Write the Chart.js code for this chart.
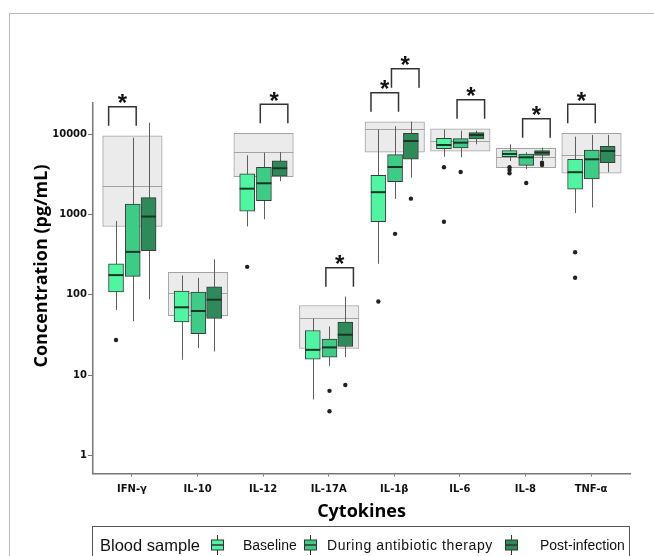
<!DOCTYPE html>
<html>
<head>
<meta charset="utf-8">
<script src="https://cdn.jsdelivr.net/npm/chart.js@4.4.0/dist/chart.umd.min.js"></script>
<style>
html, body { margin: 0; padding: 0; background: #fff; overflow: hidden; }
#wrap { position: relative; width: 654px; height: 556px; overflow: hidden; }
#frame { position: absolute; left: 9px; top: 13px; width: 700px; height: 600px; border: 1.5px solid #b8b8b8; box-sizing: border-box; }
#chart { position: absolute; left: 0; top: 0; }
#legend { position: absolute; left: 92px; top: 526px; width: 538px; height: 50px; border: 1px solid #555; box-sizing: border-box; }
.lg { position: absolute; font-family: 'Liberation Sans', Arial, sans-serif; color: #111; white-space: nowrap; line-height: 1; }
.lg.title { font-size: 16.5px; top: 537px; }
.lg.item { font-size: 14px; top: 538px; }
.icon { position: absolute; top: 535px; }
</style>
</head>
<body>
<div id="wrap">
  <div id="frame"></div>
  <canvas id="chart" width="654" height="556"></canvas>
  <div id="legend"></div>
  <div class="lg title" style="left:100px">Blood sample</div>
  <svg class="icon" style="left:210px" width="15" height="20"><line x1="7.5" y1="0" x2="7.5" y2="20" stroke="#333"/><rect x="1.5" y="5" width="12" height="10" fill="#4ff5a0" stroke="#333"/><line x1="1.5" y1="10" x2="13.5" y2="10" stroke="#333" stroke-width="1.5"/></svg>
  <div class="lg item" style="left:243px">Baseline</div>
  <svg class="icon" style="left:303px" width="15" height="20"><line x1="7.5" y1="0" x2="7.5" y2="20" stroke="#333"/><rect x="1.5" y="5" width="12" height="10" fill="#3dcb85" stroke="#333"/><line x1="1.5" y1="10" x2="13.5" y2="10" stroke="#333" stroke-width="1.5"/></svg>
  <div class="lg item" style="left:327px;letter-spacing:0.6px">During antibiotic therapy</div>
  <svg class="icon" style="left:504px" width="15" height="20"><line x1="7.5" y1="0" x2="7.5" y2="20" stroke="#333"/><rect x="1.5" y="5" width="12" height="10" fill="#2e8a58" stroke="#333"/><line x1="1.5" y1="10" x2="13.5" y2="10" stroke="#333" stroke-width="1.5"/></svg>
  <div class="lg item" style="left:540px">Post-infection</div>
</div>
<script>
const cytokines = ['IFN-γ', 'IL-10', 'IL-12', 'IL-17A', 'IL-1β', 'IL-6', 'IL-8', 'TNF-α'];
const groups = ['Baseline', 'During antibiotic therapy', 'Post-infection'];

// [min, q1, median, q3, max] for each cytokine
const baseline = [
  [65, 109, 176, 243, 830],
  [15.6, 46, 70, 111, 174],
  [710, 1100, 2090, 3190, 5430],
  [5.0, 15.9, 20.7, 36, 50.5],
  [243, 810, 1890, 3070, 11400],
  [5220, 6580, 7300, 8840, 11400],
  [4620, 5220, 5650, 6210, 7450],
  [1040, 2060, 3350, 4850, 9270]
];
const during = [
  [47, 170, 342, 1340, 9000],
  [21.8, 33, 63, 108, 163],
  [870, 1480, 2440, 3860, 5860],
  [13.1, 16.8, 22.2, 28.2, 40.5],
  [1560, 2560, 3890, 5540, 12500],
  [5130, 6700, 7800, 8760, 11000],
  [3650, 4080, 5130, 5610, 5930],
  [1220, 2760, 4850, 6290, 9730]
];
const postInfection = [
  [88, 355, 940, 1620, 13800],
  [19.8, 51, 87, 126, 277],
  [2600, 2985, 3750, 4630, 5970],
  [16.8, 22.8, 31.9, 45.7, 95],
  [2870, 4850, 8190, 10200, 14200],
  [7450, 8670, 9730, 10400, 11000],
  [4750, 5430, 5860, 6210, 6760],
  [3350, 4400, 6150, 7030, 9730]
];

const baselineOutliers = [[27.4], [], [223], [], [82.6], [3860, 810], [3860, 3570, 3250], [339, 163]];
const duringOutliers = [[], [], [], [6.4, 3.57], [573], [3370], [2460], []];
const postOutliers = [[], [], [], [7.55], [1570], [], [4400, 4120], []];

// reference range [low, median, high]
const referenceRange = [
  [708, 2260, 9500],
  [55, 105, 191],
  [2950, 5970, 10200],
  [21.5, 50.8, 73.6],
  [5930, 11400, 14200],
  [6100, 8260, 11600],
  [3820, 5180, 6640],
  [3250, 5490, 10200]
];

// significant comparisons: [cytokine index, group a, group b]
const significance = [[0, 0, 1], [2, 1, 2], [3, 1, 2], [4, 0, 1], [4, 1, 2], [5, 1, 2], [6, 1, 2], [7, 0, 1]];

const yTicks = [1, 10, 100, 1000, 10000];

const groupStats = [baseline, during, postInfection];
const groupOutliers = [baselineOutliers, duringOutliers, postOutliers];
const groupColors = ['#4ff5a0', '#3dcb85', '#2e8a58'];
const groupOffsets = [-0.243, 0.012, 0.253];
const boxWidth = 15;
const refWidth = 59.5;

const datasets = [{
  type: 'bar',
  role: 'reference',
  label: 'Reference',
  data: referenceRange.map((r, i) => ({ x: i + 0.007, y: [r[0], r[2]] })),
  backgroundColor: '#ebebeb',
  borderColor: '#a3a3a3',
  borderWidth: 1,
  borderSkipped: false,
  barThickness: refWidth,
  grouped: false,
  order: 10
}];

groupStats.forEach((stats, g) => {
  datasets.push({
    type: 'bar',
    role: 'box',
    group: g,
    label: groups[g],
    data: stats.map((s, i) => ({ x: i + groupOffsets[g], y: [s[1], s[3]] })),
    backgroundColor: groupColors[g],
    borderColor: '#3a3a3a',
    borderWidth: 1,
    borderSkipped: false,
    barThickness: boxWidth,
    grouped: false,
    order: 5
  });
});

groupOutliers.forEach((outs, g) => {
  datasets.push({
    type: 'scatter',
    role: 'outlier',
    label: groups[g] + ' outliers',
    data: outs.flatMap((vals, i) => vals.map(v => ({ x: i + groupOffsets[g], y: v }))),
    pointRadius: 2.2,
    backgroundColor: '#222',
    borderWidth: 0,
    order: 1
  });
});

const boxParts = {
  id: 'boxParts',
  afterDatasetDraw(chart, args) {
    const ds = chart.data.datasets[args.index];
    const { ctx } = chart;
    const x = chart.scales.x, y = chart.scales.y;
    ctx.save();
    if (ds.role === 'reference') {
      // reference median
      ctx.strokeStyle = '#a3a3a3';
      ctx.lineWidth = 1;
      referenceRange.forEach((r, i) => {
        const px = x.getPixelForValue(i + 0.007);
        const py = Math.round(y.getPixelForValue(r[1])) + 0.5;
        ctx.beginPath();
        ctx.moveTo(px - refWidth / 2, py);
        ctx.lineTo(px + refWidth / 2, py);
        ctx.stroke();
      });
      // whiskers
      ctx.strokeStyle = '#5e5e5e';
      groupStats.forEach((stats, g) => {
        stats.forEach((s, i) => {
          const px = Math.round(x.getPixelForValue(i + groupOffsets[g])) + 0.5;
          ctx.beginPath();
          ctx.moveTo(px, y.getPixelForValue(s[0]));
          ctx.lineTo(px, y.getPixelForValue(s[4]));
          ctx.stroke();
        });
      });
    }
    if (ds.role === 'box') {
      ctx.strokeStyle = '#1b3626';
      ctx.lineWidth = 2;
      groupStats[ds.group].forEach((s, i) => {
        const px = x.getPixelForValue(i + groupOffsets[ds.group]);
        const py = y.getPixelForValue(s[2]);
        ctx.beginPath();
        ctx.moveTo(px - boxWidth / 2, py);
        ctx.lineTo(px + boxWidth / 2, py);
        ctx.stroke();
      });
    }
    ctx.restore();
  },
  afterDraw(chart) {
    const { ctx } = chart;
    const x = chart.scales.x, y = chart.scales.y;
    const lastTop = {};
    ctx.save();
    ctx.strokeStyle = '#333';
    ctx.lineWidth = 1.5;
    ctx.fillStyle = '#111';
    ctx.font = 'bold 24px "Liberation Sans", Arial, sans-serif';
    ctx.textAlign = 'center';
    ctx.textBaseline = 'alphabetic';
    significance.forEach(([ci, a, b]) => {
      const highest = Math.max(referenceRange[ci][2], groupStats[a][ci][4], groupStats[b][ci][4]);
      let legBottom = y.getPixelForValue(highest) - 10;
      if (lastTop[ci] !== undefined) legBottom = lastTop[ci] - 5;
      const top = legBottom - 19;
      lastTop[ci] = top;
      const mid = ci + 0.63 * (groupOffsets[a] + groupOffsets[b]);
      const x1 = x.getPixelForValue(mid - 0.21);
      const x2 = x.getPixelForValue(mid + 0.21);
      ctx.beginPath();
      ctx.moveTo(x1, legBottom);
      ctx.lineTo(x1, top);
      ctx.lineTo(x2, top);
      ctx.lineTo(x2, legBottom);
      ctx.stroke();
      ctx.fillText('*', (x1 + x2) / 2, top + 4.5);
    });
    // y axis title, placed a little above the axis centre like the original
    ctx.translate(42, 266);
    ctx.rotate(-Math.PI / 2);
    ctx.font = 'bold 18px "Open Sans", sans-serif';
    ctx.fillStyle = '#000';
    ctx.textBaseline = 'middle';
    ctx.fillText('Concentration (pg/mL)', 0, 0);
    ctx.restore();
  }
};

const tickFont = { family: '"DejaVu Sans", sans-serif', size: 10, weight: 'bold' };
const titleFont = { family: '"Open Sans", sans-serif', size: 18, weight: 'bold' };

new Chart(document.getElementById('chart').getContext('2d'), {
  type: 'bar',
  data: { datasets },
  options: {
    responsive: false,
    animation: false,
    events: [],
    devicePixelRatio: 1,
    layout: { padding: { left: 0, right: 24, top: 103, bottom: 33 } },
    plugins: { legend: { display: false }, tooltip: { enabled: false } },
    scales: {
      x: {
        type: 'linear',
        min: -0.594,
        max: 7.594,
        offset: false,
        afterBuildTicks: s => { s.ticks = cytokines.map((c, i) => ({ value: i })); },
        afterFit: s => { s.height = 49.5; },
        ticks: { callback: v => cytokines[v], font: tickFont, color: '#111', padding: 7, autoSkip: false, maxRotation: 0 },
        grid: { offset: false, drawOnChartArea: false, tickLength: 3, color: '#777' },
        border: { color: '#777', width: 1.5 },
        title: { display: true, text: 'Cytokines', font: titleFont, color: '#000', padding: { top: 0, bottom: 0 } }
      },
      y: {
        type: 'logarithmic',
        min: 0.607,
        max: 24300,
        afterBuildTicks: s => { s.ticks = yTicks.map(v => ({ value: v })); },
        afterFit: s => { s.width = 93; },
        ticks: { callback: v => String(v), font: tickFont, color: '#111', padding: 1 },
        grid: { drawOnChartArea: false, tickLength: 5, color: '#777' },
        border: { color: '#777', width: 1.5 }
      }
    }
  },
  plugins: [boxParts]
});
</script>
</body>
</html>
